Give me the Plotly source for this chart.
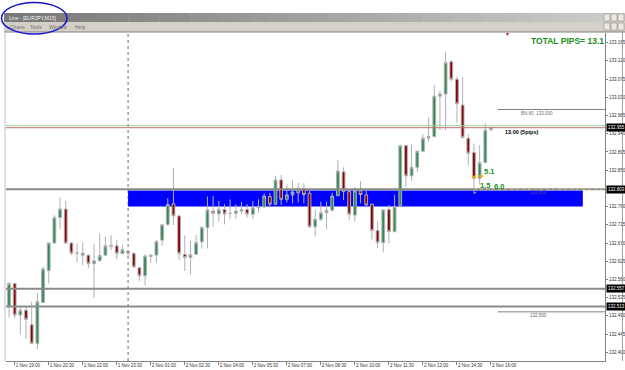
import plotly.graph_objects as go

# ---------------- data (EURJPY, M15, 1 Nov 18:45 -> 2 Nov 16:00) ----------------
opens = [132.515, 132.570, 132.492, 132.504, 132.468, 132.422, 132.523, 132.602, 132.670, 132.733,
         132.754, 132.670, 132.645, 132.645, 132.640, 132.619, 132.626, 132.640, 132.664, 132.663,
         132.644, 132.650, 132.644, 132.609, 132.589, 132.637, 132.640, 132.677, 132.716, 132.767,
         132.737, 132.642, 132.634, 132.642, 132.673, 132.708, 132.749, 132.742, 132.753, 132.743,
         132.743, 132.749, 132.753, 132.741, 132.757, 132.759, 132.785, 132.766, 132.826, 132.778,
         132.789, 132.794, 132.804, 132.793, 132.710, 132.729, 132.745, 132.751, 132.787, 132.846,
         132.797, 132.739, 132.799, 132.789, 132.766, 132.701, 132.671, 132.753, 132.698, 132.762,
         132.911, 132.836, 132.857, 132.897, 132.929, 132.933, 133.033, 133.038, 133.118, 133.075,
         133.011, 132.929, 132.894, 132.830, 132.869, 132.950]
highs = [132.573, 132.572, 132.514, 132.513, 132.525, 132.547, 132.612, 132.671, 132.739, 132.782,
         132.774, 132.672, 132.668, 132.672, 132.641, 132.667, 132.693, 132.686, 132.689, 132.678,
         132.666, 132.652, 132.648, 132.611, 132.642, 132.642, 132.677, 132.717, 132.781, 132.855,
         132.739, 132.689, 132.675, 132.690, 132.710, 132.785, 132.786, 132.774, 132.766, 132.778,
         132.766, 132.772, 132.766, 132.774, 132.778, 132.793, 132.794, 132.836, 132.838, 132.815,
         132.826, 132.819, 132.818, 132.799, 132.753, 132.772, 132.772, 132.794, 132.875, 132.857,
         132.805, 132.808, 132.823, 132.804, 132.767, 132.723, 132.754, 132.764, 132.789, 132.912,
         132.913, 132.914, 132.899, 132.939, 132.980, 133.061, 133.046, 133.143, 133.121, 133.081,
         133.080, 132.939, 132.916, 132.912, 132.966, 132.957]
lows = [132.486, 132.485, 132.445, 132.433, 132.420, 132.408, 132.522, 132.570, 132.668, 132.704,
        132.668, 132.640, 132.622, 132.615, 132.608, 132.535, 132.625, 132.639, 132.652, 132.630,
        132.643, 132.633, 132.609, 132.576, 132.565, 132.621, 132.621, 132.663, 132.712, 132.714,
        132.628, 132.601, 132.593, 132.640, 132.656, 132.657, 132.710, 132.723, 132.716, 132.729,
        132.729, 132.741, 132.733, 132.729, 132.745, 132.757, 132.760, 132.764, 132.764, 132.770,
        132.768, 132.770, 132.768, 132.708, 132.686, 132.724, 132.704, 132.748, 132.786, 132.776,
        132.727, 132.724, 132.768, 132.757, 132.679, 132.657, 132.647, 132.669, 132.697, 132.761,
        132.809, 132.823, 132.846, 132.895, 132.920, 132.931, 132.949, 132.949, 133.069, 132.967,
        132.929, 132.862, 132.793, 132.815, 132.867, 132.948]
closes = [132.570, 132.492, 132.504, 132.481, 132.422, 132.525, 132.606, 132.670, 132.733, 132.754,
          132.670, 132.645, 132.645, 132.640, 132.619, 132.626, 132.639, 132.663, 132.662, 132.644,
          132.654, 132.645, 132.611, 132.589, 132.638, 132.640, 132.674, 132.715, 132.765, 132.737,
          132.644, 132.634, 132.641, 132.671, 132.709, 132.752, 132.743, 132.753, 132.742, 132.743,
          132.749, 132.753, 132.742, 132.757, 132.760, 132.786, 132.766, 132.826, 132.778, 132.789,
          132.796, 132.804, 132.790, 132.710, 132.729, 132.745, 132.751, 132.786, 132.848, 132.797,
          132.741, 132.799, 132.790, 132.764, 132.701, 132.671, 132.752, 132.698, 132.760, 132.911,
          132.836, 132.857, 132.897, 132.929, 132.933, 133.033, 133.038, 133.116, 133.075, 133.014,
          132.931, 132.892, 132.830, 132.869, 132.949, 132.955]
bars = list(range(len(opens)))

time_labels = ["1 Nov 19:00", "1 Nov 20:30", "1 Nov 22:00", "1 Nov 23:30", "2 Nov 01:00",
               "2 Nov 02:30", "2 Nov 04:00", "2 Nov 05:30", "2 Nov 07:00", "2 Nov 08:30",
               "2 Nov 10:00", "2 Nov 11:30", "2 Nov 13:00", "2 Nov 14:30", "2 Nov 16:00"]
time_label_bars = [1, 7, 13, 19, 25, 31, 37, 43, 49, 55, 61, 67, 73, 79, 85]

price_ticks = [132.400, 132.445, 132.490, 132.535, 132.580, 132.625, 132.670, 132.715, 132.760,
               132.850, 132.895, 132.940, 132.985, 133.030, 133.075, 133.120, 133.165]

support_levels = [132.803, 132.557, 132.513]
bid_price = 132.955
ask_price = 132.960
bn_level = 133.000
lower_level = 132.500
zone_low, zone_high = 132.760, 132.800
zone_start_bar, zone_end_bar = 21, 101.2
separator_bar = 21
level_start_bar = 86.2
total_pips = 13.1

# ---------------- layout helpers (pixel -> paper) ----------------
W, H = 625, 370
L, R, T, B = 6, 20, 33, 9
PW, PH = W - L - R, H - T - B
def px(x):
    return (x - L) / PW
def py(y):
    return (H - B - y) / PH

FONT = "Liberation Sans, Arial, sans-serif"
XMIN, XMAX = -0.53, 105.11
YMIN, YMAX = 132.3785, 133.189

fig = go.Figure()
fig.add_trace(go.Candlestick(
    x=bars, open=opens, high=highs, low=lows, close=closes,
    increasing=dict(fillcolor="#2e8b57", line=dict(color="#b0b0b0", width=1)),
    decreasing=dict(fillcolor="#8b0000", line=dict(color="#b0b0b0", width=1)),
    showlegend=False, hoverinfo="skip"))

# small trade markers near the last bars
fig.add_trace(go.Scatter(x=[82.0, 83.9], y=[132.792, 132.812], mode="lines",
                         line=dict(color="#c0c0c0", width=1, dash="dot"),
                         showlegend=False, hoverinfo="skip"))
fig.add_trace(go.Scatter(x=[82.0, 83.2], y=[132.834, 132.835], mode="markers",
                         marker=dict(symbol="line-ew", size=3, line=dict(color="#ffa500", width=2)),
                         showlegend=False, hoverinfo="skip"))

shapes = []
# zone rectangle (background)
shapes.append(dict(type="rect", xref="x", yref="y", x0=zone_start_bar, x1=zone_end_bar,
                   y0=zone_low, y1=zone_high, fillcolor="#0000ff", line=dict(width=0), layer="below"))
# period separator
shapes.append(dict(type="line", xref="x", yref="paper", x0=separator_bar, x1=separator_bar, y0=0, y1=1,
                   line=dict(color="#707070", width=1, dash="dot"), layer="below"))
# support lines
for lv in support_levels:
    shapes.append(dict(type="line", xref="paper", yref="y", x0=0, x1=1, y0=lv, y1=lv,
                       line=dict(color="#8a8a8a", width=2), layer="above"))
# dashed khaki line along the level near the trade
shapes.append(dict(type="line", xref="x", yref="y", x0=82.0, x1=XMAX, y0=support_levels[0], y1=support_levels[0],
                   line=dict(color="#c8c078", width=1, dash="dot"), layer="above"))
# ask / bid lines
shapes.append(dict(type="line", xref="paper", yref="y", x0=0, x1=1, y0=ask_price, y1=ask_price,
                   line=dict(color="#9ccf9c", width=1), layer="above"))
shapes.append(dict(type="line", xref="paper", yref="y", x0=0, x1=1, y0=bid_price, y1=bid_price,
                   line=dict(color="#c07070", width=1), layer="above"))
# short level lines at the right
for lv in (bn_level, lower_level):
    shapes.append(dict(type="line", xref="x", yref="y", x0=level_start_bar, x1=XMAX, y0=lv, y1=lv,
                       line=dict(color="#808080", width=1), layer="above"))

# window chrome: title bar gradient
n = 40
x_start, x_end = 4, 625
for k in range(n):
    g = int(120 + (205 - 120) * k / (n - 1))
    xa = x_start + (x_end - x_start) * k / n
    xb = x_start + (x_end - x_start) * (k + 1) / n + 0.5
    shapes.append(dict(type="rect", xref="paper", yref="paper", x0=px(xa), x1=px(xb),
                       y0=py(22), y1=py(13), fillcolor=f"rgb({g},{g},{g})", line=dict(width=0)))
# menu bar
shapes.append(dict(type="rect", xref="paper", yref="paper", x0=px(4), x1=px(625), y0=py(32), y1=py(22),
                   fillcolor="#d4d0c8", line=dict(width=0)))
shapes.append(dict(type="line", xref="paper", yref="paper", x0=px(4), x1=px(625), y0=py(32), y1=py(32),
                   line=dict(color="#808080", width=1)))
# left and right frame lines
shapes.append(dict(type="line", xref="paper", yref="paper", x0=px(5), x1=px(5), y0=py(361), y1=py(32),
                   line=dict(color="#c0c0c0", width=1)))
shapes.append(dict(type="line", xref="paper", yref="paper", x0=px(622.5), x1=px(622.5), y0=py(361), y1=py(32),
                   line=dict(color="#a0a0a0", width=1)))
# window buttons
for bx in (604, 611, 618):
    for (ya, yb) in ((14, 21), (23, 30)):
        shapes.append(dict(type="rect", xref="paper", yref="paper", x0=px(bx), x1=px(bx + 6),
                           y0=py(yb), y1=py(ya), fillcolor="#ece9e0", line=dict(color="#808080", width=0.5)))
# hand-drawn blue ellipse
shapes.append(dict(type="circle", xref="paper", yref="paper", x0=px(1.5), x1=px(67), y0=py(34), y1=py(2.5),
                   line=dict(color="#1515d0", width=1.5)))

annotations = []
def ann(text, x, y, xref="paper", yref="paper", size=4.5, color="#303030", bold=False, xanchor="left", **kw):
    t = f"<b>{text}</b>" if bold else text
    annotations.append(dict(text=t, x=x, y=y, xref=xref, yref=yref, showarrow=False,
                            xanchor=xanchor, yanchor="middle",
                            font=dict(family=FONT, size=size, color=color), **kw))

ann("Line - [EURJPY,M15]", px(7), py(18), color="#f0f0f0", size=5)
for label, xx in (("Charts", 8), ("Tools", 28), ("Window", 47), ("Help", 73)):
    ann(label, px(xx), py(27), color="#707070", size=5)

ann(f"TOTAL PIPS= {total_pips}", px(606), py(41), size=8.5, color="#1a8f1a", bold=True, xanchor="right")
ann(f"BN-80  {bn_level:.3f}", 93.1, 132.990, xref="x", yref="y", color="#707070", xanchor="center")
ann("13.00 (5pips)", 87.1, 132.944, xref="x", yref="y", color="#000000", bold=True, size=5.5)
ann(f"{zone_high:.3f}", 93.3, 132.794, xref="x", yref="y", color="#5050a0", xanchor="center")
ann(f"{lower_level:.3f}", 93.3, 132.491, xref="x", yref="y", color="#606060", xanchor="center")
ann("5.1", 84.6, 132.846, xref="x", yref="y", color="#1a8f1a", bold=True, size=7.5, xanchor="center")
ann("1.5", 83.9, 132.811, xref="x", yref="y", color="#1a8f1a", bold=True, size=7.5, xanchor="center")
ann("6.0", 86.4, 132.809, xref="x", yref="y", color="#1a8f1a", bold=True, size=7.5, xanchor="center")
ann("▼", px(507), py(34), color="#c00000", size=5, xanchor="center")

# price boxes on the right axis
for val in [bid_price] + support_levels:
    ann(f"{val:.3f}", px(606), val, yref="y", color="#ffffff", size=4.5,
        bgcolor="#000000", borderpad=1)

fig.update_layout(
    width=W, height=H,
    margin=dict(l=L, r=R, t=T, b=B, autoexpand=False),
    paper_bgcolor="#ffffff", plot_bgcolor="#ffffff",
    shapes=shapes, annotations=annotations,
    font=dict(family=FONT, size=4.5, color="#303030"),
    xaxis=dict(range=[XMIN, XMAX], tickmode="array", tickvals=time_label_bars, ticktext=time_labels,
               ticks="outside", ticklen=3, tickcolor="#808080", ticklabelposition="outside right",
               tickfont=dict(size=4.5, color="#303030", family=FONT),
               showline=True, linecolor="#808080", linewidth=1, showgrid=False, zeroline=False,
               rangeslider=dict(visible=False), automargin=False, fixedrange=True),
    yaxis=dict(range=[YMIN, YMAX], side="right", tickmode="array", tickvals=price_ticks,
               ticktext=[f"{v:.3f}" for v in price_ticks],
               ticks="outside", ticklen=2, tickcolor="#808080",
               tickfont=dict(size=4.5, color="#303030", family=FONT),
               showline=True, linecolor="#808080", linewidth=1, showgrid=False, zeroline=False,
               automargin=False, fixedrange=True),
)

fig.write_html("out.html")
